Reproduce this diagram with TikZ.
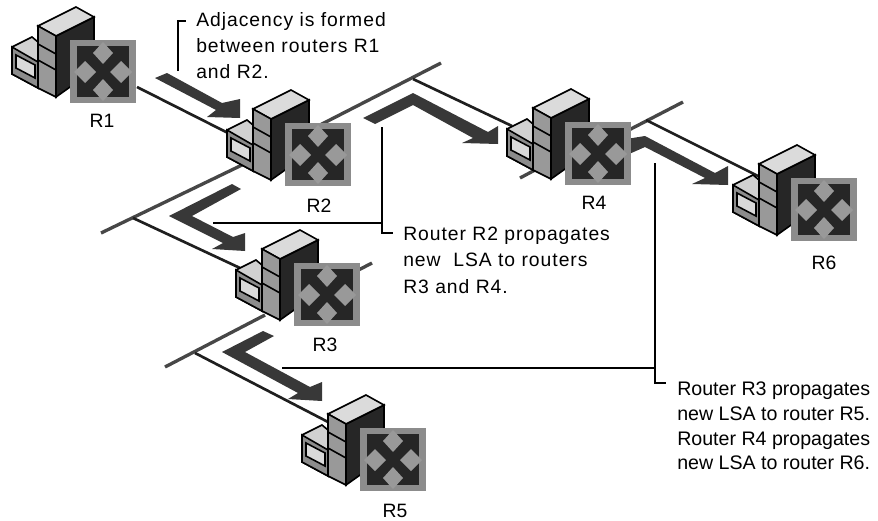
\documentclass[tikz,border=0pt]{standalone}
\usepackage{fontspec}
\setmainfont{Liberation Sans}
\newfontfamily\spacedfont[LetterSpace=5]{Liberation Sans}
\usepackage{tikz}
\tikzstyle{bus} = [line width=2.5pt, draw=black!72]
\tikzstyle{tap} = [line width=2pt, draw=black!88]
\tikzstyle{callout} = [line width=1.2pt, draw=black]
\tikzstyle{flow} = [fill=black!78]
\tikzstyle{rlabel} = [inner sep=0pt, font=\fontsize{14.5}{16}\selectfont]
\tikzstyle{note} = [inner sep=0pt, anchor=north west, align=left, font=\spacedfont\fontsize{14.5}{19.6}\selectfont]
\tikzstyle{smallnote} = [inner sep=0pt, anchor=north west, align=left, font=\fontsize{14.7}{18.4}\selectfont]
\tikzset{
  router/.pic={
    % small box
    \filldraw[fill=black!18, line width=1.2pt] (-58,7) -- (-38,-3) -- (-32,2) -- (-32,22) -- (-32,48) -- (-58,34) -- cycle;
    \filldraw[fill=black!45, line width=1.2pt] (-58,7) -- (-32,22) -- (-32,48) -- (-58,34) -- cycle;
    \filldraw[fill=black!15, line width=1.2pt] (-54,15) -- (-35,25) -- (-35,38) -- (-54,28) -- cycle;
    % tower
    \filldraw[fill=black!85, line width=1.2pt] (-14,-4) -- (24,-23) -- (24,30) -- (-14,57) -- cycle;
    \filldraw[fill=black!14, line width=1.2pt] (-32,-14) -- (6,-33) -- (24,-23) -- (-14,-4) -- cycle;
    \filldraw[fill=black!40, line width=1.2pt] (-32,-14) -- (-14,-4) -- (-14,57) -- (-32,48) -- cycle;
    \draw[line width=1.2pt] (-32,4) -- (-14,14) (-32,20) -- (-14,30);
    % switch square
    \fill[black!45] (0,0) rectangle (66,63);
    \fill[black!85] (7,6) rectangle (59,57);
    \fill[black!40] (33,2) -- (43,13) -- (33,24) -- (23,13) -- cycle;
    \fill[black!40] (33,39) -- (43,50) -- (33,61) -- (23,50) -- cycle;
    \fill[black!40] (4,32) -- (15,21) -- (26,32) -- (15,43) -- cycle;
    \fill[black!40] (40,32) -- (51,21) -- (62,32) -- (51,43) -- cycle;
  }
}

\begin{document}
\begin{tikzpicture}[x=0.75pt,y=-0.75pt]
\useasboundingbox (0,0) rectangle (878,521);
% Segments
\coordinate (r1port) at (137,87);
\coordinate (r2port) at (232,135);
\coordinate (bus24a) at (320,125);
\coordinate (bus24b) at (441,63);
\coordinate (tap24) at (413,79);
\coordinate (r4port) at (512,126);
\coordinate (bus23a) at (242,165);
\coordinate (bus23b) at (101,233);
\coordinate (tap23) at (133,218);
\coordinate (r3port) at (240,268);
\coordinate (stub3a) at (372,263);
\coordinate (stub3b) at (345,277);
\coordinate (bus35a) at (265,315);
\coordinate (bus35b) at (165,367);
\coordinate (tap35) at (195,353);
\coordinate (r5port) at (330,423);
\coordinate (stub4a) at (520,178);
\coordinate (stub4b) at (535,170);
\coordinate (bus46a) at (625,132);
\coordinate (bus46b) at (683,102);
\coordinate (tap46) at (646,120);
\coordinate (r6port) at (760,177);
\draw [tap] (r1port) -- (r2port);
\draw [bus] (bus24a) -- (bus24b);
\draw [tap] (tap24) -- (r4port);
\draw [bus] (bus23a) -- (bus23b);
\draw [tap] (tap23) -- (r3port);
\draw [bus] (stub3a) -- (stub3b);
\draw [bus] (bus35a) -- (bus35b);
\draw [tap] (tap35) -- (r5port);
\draw [bus] (stub4a) -- (stub4b);
\draw [bus] (bus46a) -- (bus46b);
\draw [tap] (tap46) -- (r6port);
% Flow arrows
\fill [flow] (155,78) -- (167,73) -- (222,103) -- (240,99) -- (240,118) -- (207,117) -- (216,110) -- cycle;
\fill [flow] (363,118) -- (413,93) -- (488,132) -- (498,126) -- (498,144) -- (462,143) -- (473,138) -- (413,105) -- (375,124) -- cycle;
\fill [flow] (620,140) -- (645,136) -- (715,173) -- (728,166) -- (728,185) -- (692,184) -- (705,178) -- (645,147) -- (620,158) -- cycle;
\fill [flow] (232,184) -- (241,189) -- (192,216) -- (233,237) -- (245,233) -- (245,251) -- (212,249) -- (223,243) -- (169,216) -- cycle;
\fill [flow] (263,331) -- (274,336) -- (245,352) -- (310,387) -- (322,382) -- (322,401) -- (288,399) -- (298,393) -- (222,352) -- cycle;
% Routers
\pic at (70,40) {router};
\pic at (285,123) {router};
\pic at (294,263) {router};
\pic at (565,122) {router};
\pic at (360,428) {router};
\pic at (791,178) {router};
% Labels
\node (lblR1) [rlabel] at (102,121) {R1};
\node (lblR2) [rlabel] at (319,206) {R2};
\node (lblR3) [rlabel] at (325,345) {R3};
\node (lblR4) [rlabel] at (594,203) {R4};
\node (lblR5) [rlabel] at (395,511) {R5};
\node (lblR6) [rlabel] at (824,263) {R6};
\node (noteA) [note] at (196,12) {Adjacency is formed\\between routers R1\\and R2.};
\node (noteB) [note] at (403,227) {Router R2 propagates\\new~ LSA to routers\\R3 and R4.};
\node (noteC) [smallnote] at (677,382) {Router R3 propagates\\new LSA to router R5.\\Router R4 propagates\\new LSA to router R6.};
% Callouts
\coordinate (brA1) at (178,71);
\coordinate (brA2) at (178,21);
\coordinate (brA3) at (186,21);
\draw [callout] (brA1) -- (brA2) -- (brA3);
\coordinate (brB1) at (382,127);
\coordinate (brB2) at (382,233);
\coordinate (brB3) at (393,233);
\coordinate (brB4) at (213,223);
\coordinate (brB5) at (382,223);
\draw [callout] (brB1) -- (brB2) -- (brB3);
\draw [callout] (brB4) -- (brB5);
\coordinate (brC1) at (655,163);
\coordinate (brC2) at (655,383);
\coordinate (brC3) at (666,383);
\coordinate (brC4) at (282,368);
\coordinate (brC5) at (655,368);
\draw [callout] (brC1) -- (brC2) -- (brC3);
\draw [callout] (brC4) -- (brC5);
\end{tikzpicture}
\end{document}
